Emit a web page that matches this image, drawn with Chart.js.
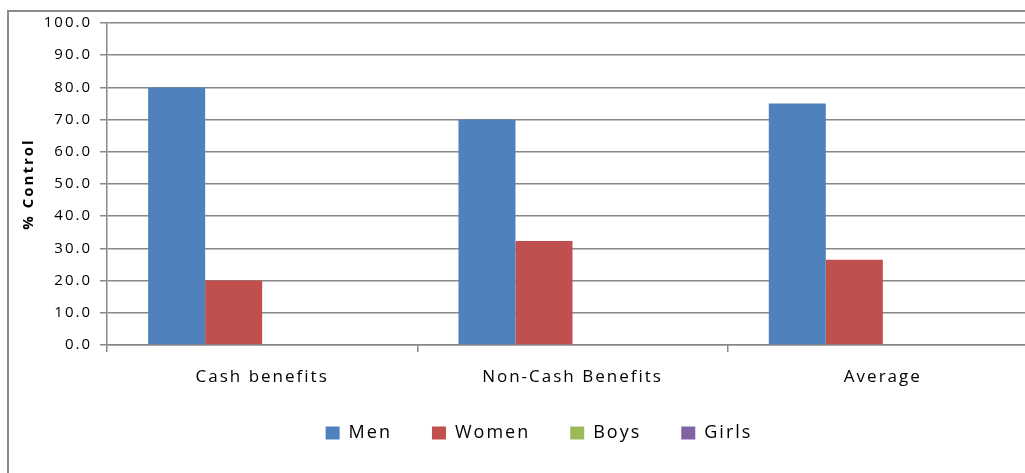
<!DOCTYPE html>
<html>
<head>
<meta charset="utf-8">
<script src="https://cdn.jsdelivr.net/npm/chart.js@4/dist/chart.umd.min.js"></script>
<style>
  html, body { margin: 0; padding: 0; background: #fff; overflow: hidden; }
  #wrap { position: absolute; left: 0; top: 0; width: 1060px; height: 473px; }
</style>
</head>
<body>
<div id="wrap"><canvas id="chart" width="1060" height="473"></canvas></div>
<script>
// Categories and series (% control over benefits)
const categories = ['Cash benefits', 'Non-Cash Benefits', 'Average'];
const men   = [80.0, 70.0, 75.0];
const women = [20.0, 32.3, 26.5];
const boys  = [0.0, 0.0, 0.0];
const girls = [0.0, 0.0, 0.0];
const yTicks = { min: 0, max: 100, step: 10 };

const FONT = "'Open Sans', 'DejaVu Sans', sans-serif";
const GRID = '#888888';

// Wide, airy lettering for all canvas text, the outer frame,
// and a small nudge of the legend row (right and up)
const spacing = {
  id: 'spacing',
  beforeUpdate(chart) { chart.ctx.letterSpacing = '2px'; },
  afterLayout(chart) {
    const lg = chart.legend;
    lg.left += 10; lg.right += 10;
    lg.top -= 11; lg.bottom -= 11;
  },
  beforeDraw(chart) {
    const ctx = chart.ctx;
    ctx.letterSpacing = '2px';
    ctx.save();
    ctx.strokeStyle = '#8a8a8a';
    ctx.lineWidth = 2;
    ctx.beginPath();
    ctx.moveTo(8, chart.height);
    ctx.lineTo(8, 11);
    ctx.lineTo(chart.width, 11);
    ctx.stroke();
    ctx.restore();
  }
};

new Chart(document.getElementById('chart'), {
  type: 'bar',
  data: {
    labels: categories,
    datasets: [
      { label: 'Men',   data: men,   backgroundColor: '#4F81BD' },
      { label: 'Women', data: women, backgroundColor: '#C0504D' },
      { label: 'Boys',  data: boys,  backgroundColor: '#9BBB59' },
      { label: 'Girls', data: girls, backgroundColor: '#8064A2' }
    ]
  },
  options: {
    responsive: false,
    animation: false,
    devicePixelRatio: 1,
    layout: { padding: { left: 20, top: 23, right: 22, bottom: 10 } },
    datasets: { bar: { barPercentage: 1.0, categoryPercentage: 0.735, borderWidth: 0 } },
    plugins: {
      legend: {
        position: 'bottom',
        labels: {
          color: '#000',
          font: { family: FONT, size: 18 },
          boxWidth: 14, boxHeight: 13,
          padding: 40
        }
      },
      tooltip: { enabled: false }
    },
    scales: {
      x: {
        grid: { offset: true, drawOnChartArea: false, color: GRID, lineWidth: 1.5, tickLength: 7 },
        border: { color: GRID, width: 1.5 },
        ticks: { color: '#000', font: { family: FONT, size: 17 }, padding: 15, maxRotation: 0 },
        afterFit(scale) { scale.height = 50; }
      },
      y: {
        min: yTicks.min, max: yTicks.max,
        grid: { color: GRID, lineWidth: 1.5, tickLength: 7 },
        border: { color: GRID, width: 1.5 },
        ticks: {
          stepSize: yTicks.step, color: '#000', padding: 8,
          font: { family: FONT, size: 15 },
          callback: v => Number(v).toFixed(1)
        },
        title: {
          display: true, text: '% Control', color: '#000',
          font: { family: FONT, size: 15, weight: 'bold' }, padding: 0
        },
        afterFit(scale) { scale.width = 87; }
      }
    }
  },
  plugins: [spacing]
});
</script>
</body>
</html>
